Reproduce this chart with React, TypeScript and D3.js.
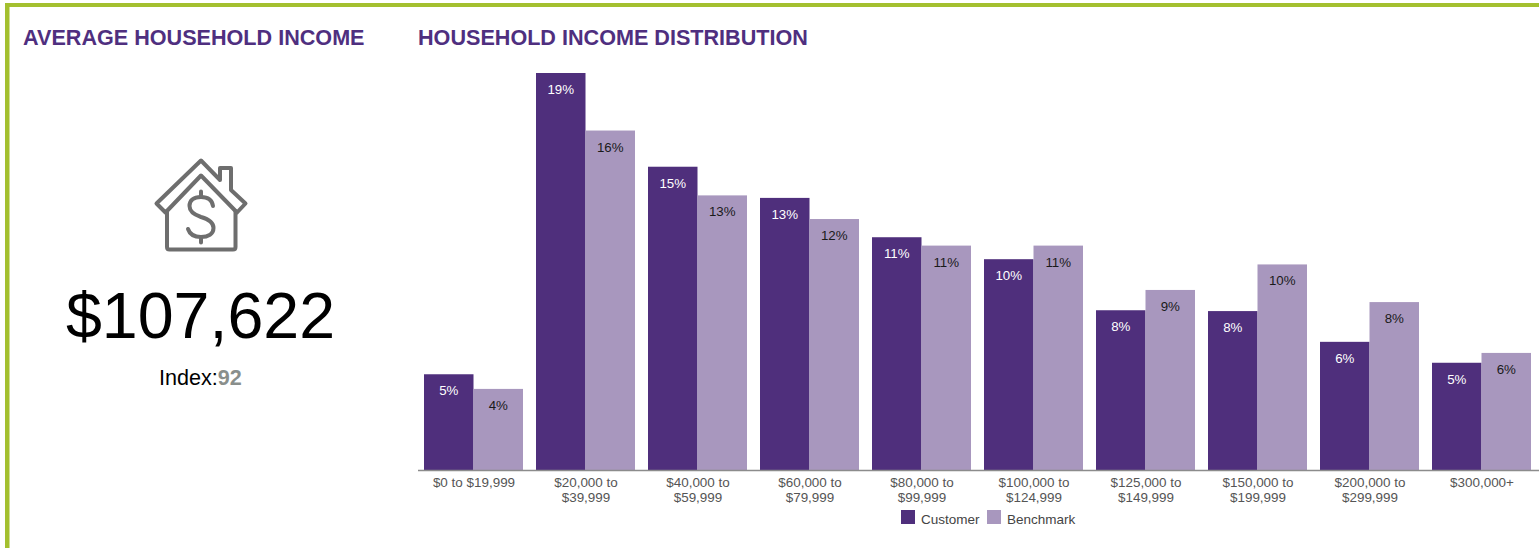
import React from "react";
import * as d3 from "d3";

const categories = [
  ["$0 to $19,999"],
  ["$20,000 to", "$39,999"],
  ["$40,000 to", "$59,999"],
  ["$60,000 to", "$79,999"],
  ["$80,000 to", "$99,999"],
  ["$100,000 to", "$124,999"],
  ["$125,000 to", "$149,999"],
  ["$150,000 to", "$199,999"],
  ["$200,000 to", "$299,999"],
  ["$300,000+"],
];
const customer = [4.6, 19, 14.52, 13.03, 11.15, 10.1, 7.66, 7.62, 6.15, 5.15];
const benchmark = [3.9, 16.25, 13.15, 12.02, 10.75, 10.75, 8.63, 9.85, 8.05, 5.62];
const customerLabels = ["5%", "19%", "15%", "13%", "11%", "10%", "8%", "8%", "6%", "5%"];
const benchmarkLabels = ["4%", "16%", "13%", "12%", "11%", "11%", "9%", "10%", "8%", "6%"];
const seriesNames = ["Customer", "Benchmark"];

const PURPLE = "#4f2f7c";
const LILAC = "#a897be";
const GREEN = "#a4c02f";
const HEAD = "#4f2f7f";
const FONT = "Liberation Sans, Arial, sans-serif";

export default function App() {
  const x = d3.scaleBand<number>().domain(d3.range(10)).range([418, 1538]).paddingInner(0).paddingOuter(0);
  const y = d3.scaleLinear().domain([0, 19]).range([470.5, 73]);
  const barW = 49.5;
  const center = (i: number) => (x(i) as number) + 6 + barW;
  return (
    <svg width={1539} height={548} style={{ position: "absolute", left: 0, top: 0, background: "#fff" }} fontFamily={FONT}>
      <rect x={5} y={3} width={1534} height={4} fill={GREEN} />
      <rect x={5} y={3} width={4.5} height={545} fill={GREEN} />
      <text x={23} y={44.5} fontSize={21.6} fontWeight="bold" fill={HEAD}>AVERAGE HOUSEHOLD INCOME</text>
      <text x={418} y={44.5} fontSize={21.6} fontWeight="bold" fill={HEAD}>HOUSEHOLD INCOME DISTRIBUTION</text>

      <g fill="none" stroke="#6e6e6e" strokeWidth={4} strokeLinejoin="round" strokeLinecap="round">
        <path d="M201 160.5 L156.5 203.5 L165.5 212.5 L201 175.5 L237 212.5 L245.5 203.5 L231 190 L231 168 L220 168 L220 180 Z" />
        <path d="M167 211 L167 247 Q167 249.5 169.5 249.5 L233 249.5 Q235.5 249.5 235.5 247 L235.5 211" />
        <path d="M213 206 C212 199 207 197 201 197 C193 197 189.5 201 189.5 206 C189.5 212 195 215 201 217 C208 219 213.5 222 213.5 228 C213.5 234 208 237 201 237 C195 237 190 235 188 229" />
        <path d="M201 191.5 L201 197 M201 237 L201 242.5" />
      </g>
      <text x={200.5} y={338} fontSize={64.5} textAnchor="middle" fill="#000">$107,622</text>
      <text x={159} y={385} fontSize={21.6} fill="#000">Index:<tspan fontWeight="bold" fill="#8a8f8c">92</tspan></text>

      {customer.map((v, i) => (
        <g key={i}>
          <rect x={center(i) - barW} y={y(v)} width={barW} height={y(0) - y(v)} fill={PURPLE} />
          <rect x={center(i)} y={y(benchmark[i])} width={barW} height={y(0) - y(benchmark[i])} fill={LILAC} />
          <text x={center(i) - barW / 2} y={y(v) + 21} fontSize={13.3} textAnchor="middle" fill="#fff">{customerLabels[i]}</text>
          <text x={center(i) + barW / 2} y={y(benchmark[i]) + 21} fontSize={13.3} textAnchor="middle" fill="#1a1a1a">{benchmarkLabels[i]}</text>
          <text fontSize={13.45} textAnchor="middle" fill="#555">
            {categories[i].map((l, j) => (
              <tspan key={j} x={center(i) + 0.5} y={486.5 + j * 15.3}>{l}</tspan>
            ))}
          </text>
        </g>
      ))}
      <line x1={418} x2={1539} y1={470.5} y2={470.5} stroke="#8c8c8c" strokeWidth={1.5} />

      <rect x={901} y={510} width={14} height={14} fill={PURPLE} />
      <text x={921} y={523.5} fontSize={13.5} fill="#444">{seriesNames[0]}</text>
      <rect x={987} y={510} width={14} height={14} fill={LILAC} />
      <text x={1007} y={523.5} fontSize={13.5} fill="#444">{seriesNames[1]}</text>
    </svg>
  );
}
